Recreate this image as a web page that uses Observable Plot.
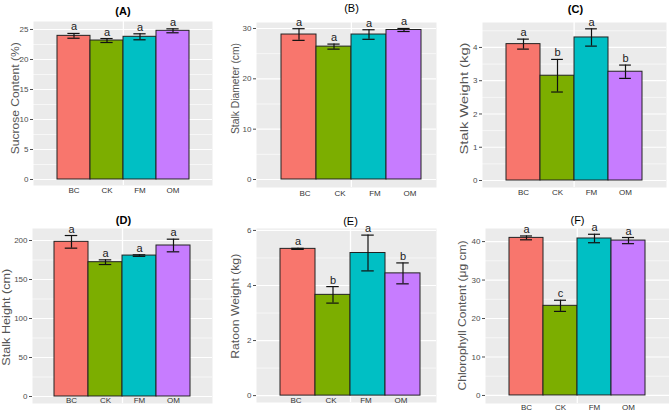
<!DOCTYPE html>
<html><head><meta charset="utf-8">
<script src="https://cdn.jsdelivr.net/npm/d3@7"></script>
<script src="https://cdn.jsdelivr.net/npm/@observablehq/plot@0.6"></script>
<style>
html,body{margin:0;padding:0;background:#fff;}
#fig{position:relative;width:669px;height:412px;overflow:hidden;background:#fff;}
#fig > svg{position:absolute;overflow:visible;}
</style></head><body><div id="fig"></div>
<script>
const categories = ["BC", "CK", "FM", "OM"];
const palette = ["#F8766D", "#7CAE00", "#00BFC4", "#C77CFF"];

const sucrose = [23.94, 23.16, 23.78, 24.78];
const sucroseErr = [0.4, 0.33, 0.5, 0.33];
const sucroseLetters = ["a", "a", "a", "a"];
const sucroseTicks = [0, 5, 10, 15, 20, 25];
const sucroseMinor = [2.5, 7.5, 12.5, 17.5, 22.5];

const diameter = [28.8, 26.4, 28.8, 29.7];
const diameterErr = [1.16, 0.5, 0.95, 0.3];
const diameterLetters = ["a", "a", "a", "a"];
const diameterTicks = [0, 10, 20, 30];
const diameterMinor = [5, 15, 25];

const stalkWeight = [4.1, 3.15, 4.3, 3.27];
const stalkWeightErr = [0.15, 0.49, 0.26, 0.2];
const stalkWeightLetters = ["a", "b", "a", "b"];
const stalkWeightTicks = [0, 1, 2, 3, 4];
const stalkWeightMinor = [0.5, 1.5, 2.5, 3.5, 4.5];

const stalkHeight = [198.3, 172.2, 180.7, 193.6];
const stalkHeightErr = [8.1, 3, 1, 8.1];
const stalkHeightLetters = ["a", "a", "a", "a"];
const stalkHeightTicks = [0, 50, 100, 150, 200];
const stalkHeightMinor = [25, 75, 125, 175];

const ratoon = [5.33, 3.66, 5.18, 4.44];
const ratoonErr = [0.02, 0.3, 0.65, 0.38];
const ratoonLetters = ["a", "b", "a", "b"];
const ratoonTicks = [0, 2, 4, 6];
const ratoonMinor = [1, 3, 5];

const chlorophyll = [40.96, 23.3, 40.8, 40.26];
const chlorophyllErr = [0.5, 1.45, 1.1, 0.8];
const chlorophyllLetters = ["a", "c", "a", "a"];
const chlorophyllTicks = [0, 10, 20, 30, 40];
const chlorophyllMinor = [5, 15, 25, 35];

const panels = [
  {title: "(A)", bold: true, yLabel: "Sucrose Content (%)", values: sucrose, errors: sucroseErr, letters: sucroseLetters, major: sucroseTicks, minor: sucroseMinor,
   L: {left: 0, top: 0, width: 223, height: 200, mL: 33, mR: 11, mT: 21, mB: 15, yDomain: [-1, 26.33], po: 0.692, align: 0.52, titleDy: -10, titleDx: 0, labDx: -18, labDy: -5.2, labLen: 112, xDy: 5, xDx: 0}},
  {title: "(B)", bold: false, yLabel: "Stalk Diameter (cm)", values: diameter, errors: diameterErr, letters: diameterLetters, major: diameterTicks, minor: diameterMinor,
   L: {left: 223, top: 0, width: 223, height: 200, mL: 33, mR: 10, mT: 22, mB: 13, yDomain: [-1.59, 31.19], po: 0.553, align: 0.615, titleDy: -13.7, titleDx: 5, labDx: -20.3, labDy: -16.5, labLen: 91, xDy: 6, xDx: 6}},
  {title: "(C)", bold: true, yLabel: "Stalk Weight (kg)", values: stalkWeight, errors: stalkWeightErr, letters: stalkWeightLetters, major: stalkWeightTicks, minor: stalkWeightMinor,
   L: {left: 446, top: 0, width: 223, height: 200, mL: 36, mR: 3, mT: 22, mB: 13, yDomain: [-0.21, 4.75], po: 0.647, align: 0.51, titleDy: -13.3, titleDx: 1, labDx: -17.7, labDy: -6.5, labLen: 112, xDy: 5, xDx: 0}},
  {title: "(D)", bold: true, yLabel: "Stalk Height (cm)", values: stalkHeight, errors: stalkHeightErr, letters: stalkHeightLetters, major: stalkHeightTicks, minor: stalkHeightMinor,
   L: {left: 0, top: 200, width: 223, height: 212, mL: 32, mR: 11, mT: 28, mB: 9, yDomain: [-8.97, 215.4], po: 0.647, align: 0.5, titleDy: -8, titleDx: 1, labDx: -26, labDy: 1.2, labLen: 97, xDy: -3, xDx: 0}},
  {title: "(E)", bold: false, yLabel: "Ratoon Weight (kg)", values: ratoon, errors: ratoonErr, letters: ratoonLetters, major: ratoonTicks, minor: ratoonMinor,
   L: {left: 223, top: 200, width: 223, height: 212, mL: 33, mR: 10, mT: 28, mB: 10, yDomain: [-0.25, 6.07], po: 0.571, align: 0.6, titleDy: -7.5, titleDx: 4, labDx: -20.3, labDy: -9.2, labLen: 105, xDy: -2, xDx: -2}},
  {title: "(F)", bold: false, yLabel: "Chlorophyll Content (μg cm)", values: chlorophyll, errors: chlorophyllErr, letters: chlorophyllLetters, major: chlorophyllTicks, minor: chlorophyllMinor,
   L: {left: 446, top: 200, width: 223, height: 212, mL: 39, mR: 0, mT: 28, mB: 9, yDomain: [-2.09, 43.4], po: 0.672, align: 0.5, titleDy: -8.3, titleDx: 0, labDx: -22.3, labDy: -0.5, labLen: 150, xDy: 3.7, xDx: 0}}
];

const font = "'Liberation Sans', Arial, Helvetica, sans-serif";
const fig = document.getElementById("fig");

for (const p of panels) {
  const L = p.L;
  const data = categories.map((c, i) => ({
    cat: c, value: p.values[i], lo: p.values[i] - p.errors[i], hi: p.values[i] + p.errors[i], letter: p.letters[i]
  }));
  const fw = L.width - L.mL - L.mR;
  const bw = fw / (categories.length + 2 * L.po);
  const inset = Math.max(0, (bw - 12.5) / 2);
  const err = {stroke: "#111", strokeWidth: 1.2};

  const svg = Plot.plot({
    width: L.width, height: L.height,
    marginLeft: L.mL, marginRight: L.mR, marginTop: L.mT, marginBottom: L.mB,
    style: {fontFamily: font, background: "transparent", overflow: "visible"},
    x: {type: "band", domain: categories, paddingInner: 0, paddingOuter: L.po, align: L.align, axis: null},
    y: {domain: L.yDomain},
    color: {domain: categories, range: palette},
    marks: [
      Plot.frame({fill: "#EBEBEB", stroke: "none"}),
      Plot.ruleY(p.minor, {stroke: "white", strokeWidth: 0.6}),
      Plot.ruleY(p.major, {stroke: "white", strokeWidth: 1.2}),
      Plot.ruleX(["FM"], {dx: -bw / 2, stroke: "white", strokeWidth: 1.3}),
      Plot.barY(data, {x: "cat", y: "value", fill: "cat", stroke: "#222", strokeWidth: 1}),
      Plot.ruleX(data, {x: "cat", y1: "lo", y2: "hi", ...err}),
      Plot.tickY(data, {x: "cat", y: "lo", insetLeft: inset, insetRight: inset, ...err}),
      Plot.tickY(data, {x: "cat", y: "hi", insetLeft: inset, insetRight: inset, ...err}),
      Plot.text(data, {x: "cat", y: "hi", text: "letter", lineAnchor: "bottom", dy: -3, fontSize: 11, fill: "#222"}),
      Plot.text(categories, {x: d => d, text: d => d, frameAnchor: "bottom", lineAnchor: "middle", dy: L.xDy, dx: L.xDx, fontSize: 8, fill: "#333"}),
      Plot.axisY({ticks: p.major, tickFormat: d => String(d), tickSize: 3, tickPadding: 2, fontSize: 8, color: "#4D4D4D", label: null}),
      Plot.text([p.title], {frameAnchor: "top", lineAnchor: "middle", dy: L.titleDy, dx: L.titleDx, fontSize: 11, fontWeight: p.bold ? "bold" : "normal", fill: "#000"}),
      Plot.text([p.yLabel], {frameAnchor: "left", lineAnchor: "middle", textAnchor: "middle", rotate: -90, dx: L.labDx, dy: L.labDy, fontSize: 10, fill: "#555"})
    ]
  });
  svg.style.left = L.left + "px";
  svg.style.top = L.top + "px";
  d3.select(svg).selectAll("text")
    .filter(function () { return this.textContent === p.yLabel; })
    .attr("textLength", L.labLen)
    .attr("lengthAdjust", "spacingAndGlyphs");
  fig.appendChild(svg);
}
</script>
</body></html>
